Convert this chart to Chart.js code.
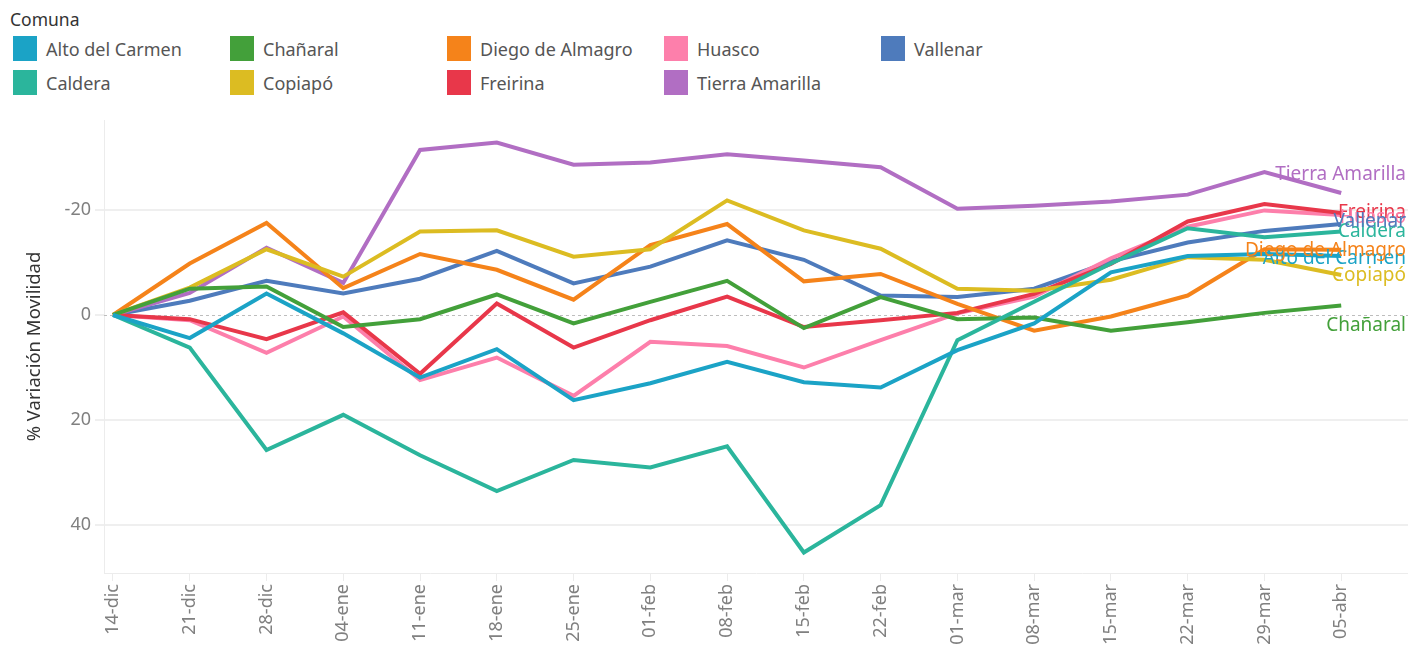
<!DOCTYPE html>
<html>
<head>
<meta charset="utf-8">
<script src="https://cdn.jsdelivr.net/npm/chart.js"></script>
<style>
  html, body { margin: 0; padding: 0; background: #fff; overflow: hidden; }
  body { width: 1408px; height: 645px; position: relative; font-family: "Noto Sans", sans-serif; }
  .legend-title { position: absolute; left: 10px; top: 7px; font-size: 17.5px; color: #333; }
  .legend-item { position: absolute; height: 25px; display: flex; align-items: center; font-size: 18px; color: #555; }
  .legend-item span.sw { width: 24px; height: 25px; margin-right: 9px; display: inline-block; }
  #wrap { position: absolute; left: 0; top: 100px; width: 1408px; height: 545px; }
</style>
</head>
<body>
<div class="legend-title">Comuna</div>
<div id="legend"></div>
<div id="wrap"><canvas id="chart"></canvas></div>
<script>
// semanas
const weeks = ["14-dic", "21-dic", "28-dic", "04-ene", "11-ene", "18-ene", "25-ene", "01-feb", "08-feb",
  "15-feb", "22-feb", "01-mar", "08-mar", "15-mar", "22-mar", "29-mar", "05-abr"];

const comunas = ["Alto del Carmen", "Caldera", "Chañaral", "Copiapó", "Diego de Almagro",
  "Freirina", "Huasco", "Tierra Amarilla", "Vallenar"];

// % variacion movilidad por comuna
const altoDelCarmen = [0, 4.4, -4.1, 3.5, 11.9, 6.5, 16.2, 13.0, 8.9, 12.8, 13.8, 6.7, 1.6, -8.1, -11.2, -11.6, -11.2];
const caldera = [0, 6.2, 25.7, 19.0, 26.7, 33.5, 27.6, 29.0, 25.0, 45.2, 36.2, 4.8, -2.5, -9.8, -16.5, -14.8, -15.9];
const chanaral = [0, -5.0, -5.4, 2.3, 0.8, -3.9, 1.6, -2.5, -6.5, 2.5, -3.4, 0.8, 0.5, 3.0, 1.4, -0.4, -1.8];
const copiapo = [0, -5.2, -12.5, -7.3, -15.9, -16.1, -11.1, -12.5, -21.8, -16.1, -12.6, -5.0, -4.6, -6.7, -11.0, -10.5, -7.6];
const diegoDeAlmagro = [0, -9.8, -17.5, -5.1, -11.6, -8.6, -2.9, -13.3, -17.3, -6.4, -7.8, -2.1, 3.0, 0.3, -3.7, -12.5, -12.4];
const freirina = [0, 0.8, 4.6, -0.5, 11.2, -2.2, 6.2, 1.0, -3.5, 2.3, 1.0, -0.4, -4.0, -9.7, -17.8, -21.1, -19.4];
const huasco = [0, 1.0, 7.2, 0.3, 12.4, 8.1, 15.4, 5.1, 5.9, 10.0, 4.8, -0.3, -3.5, -10.8, -16.8, -19.9, -19.0];
const tierraAmarilla = [0, -4.2, -12.8, -6.1, -31.4, -32.8, -28.6, -29.0, -30.6, -29.4, -28.1, -20.2, -20.8, -21.6, -22.9, -27.2, -23.2];
const vallenar = [0, -2.7, -6.5, -4.1, -6.9, -12.2, -6.0, -9.2, -14.2, -10.5, -3.7, -3.4, -5.0, -10.2, -13.8, -16.0, -17.3];

const seriesValues = [altoDelCarmen, caldera, chanaral, copiapo, diegoDeAlmagro, freirina, huasco, tierraAmarilla, vallenar];
const colors = ["#1ba3c6", "#2bb59c", "#43a03a", "#dcbc22", "#f5831a", "#e8374a", "#fd7fab", "#b16ec3", "#4e7bbc"];
// desplazamiento vertical de la etiqueta final (px)
const labelShift = [2, 0, 20, 1, 1, 0, 2, -18, -2];

const yTicks = [-20, 0, 20, 40];

// legend (html, 5 columnas)
const legendEl = document.getElementById("legend");
const legendOrder = [0, 2, 4, 6, 8, 1, 3, 5, 7];
legendOrder.forEach((idx, k) => {
  const col = k < 5 ? k : k - 5;
  const row = k < 5 ? 0 : 1;
  const d = document.createElement("div");
  d.className = "legend-item";
  d.style.left = (13 + col * 217) + "px";
  d.style.top = (36 + row * 34) + "px";
  d.innerHTML = `<span class="sw" style="background:${colors[idx]}"></span>${comunas[idx]}`;
  legendEl.appendChild(d);
});

const fontFam = '"Noto Sans", sans-serif';

const datasets = comunas.map((name, i) => ({
  label: name,
  data: seriesValues[i].map((v, j) => ({ x: j, y: v })),
  borderColor: colors[i],
  backgroundColor: colors[i],
  borderWidth: 4,
  pointRadius: 0,
  tension: 0,
  fill: false,
  clip: false
}));

// zero line dashed + end labels
const extras = {
  id: "extras",
  beforeDatasetsDraw(chart) {
    const { ctx, chartArea, scales } = chart;
    const y0 = scales.y.getPixelForValue(0);
    ctx.save();
    ctx.strokeStyle = "#bdbdbd";
    ctx.lineWidth = 1;
    ctx.setLineDash([3, 3]);
    ctx.beginPath();
    ctx.moveTo(chartArea.left, Math.round(y0) + 0.5);
    ctx.lineTo(chartArea.right, Math.round(y0) + 0.5);
    ctx.stroke();
    ctx.restore();
  },
  afterDatasetsDraw(chart) {
    const { ctx, chartArea } = chart;
    ctx.save();
    ctx.font = "19px " + fontFam;
    ctx.textAlign = "right";
    ctx.textBaseline = "middle";
    chart.data.datasets.forEach((ds, i) => {
      const meta = chart.getDatasetMeta(i);
      const last = meta.data[meta.data.length - 1];
      ctx.fillStyle = colors[i];
      ctx.fillText(ds.label, chartArea.right - 2, last.y + labelShift[i]);
    });
    ctx.restore();
  }
};

new Chart(document.getElementById("chart"), {
  type: "line",
  data: { datasets },
  plugins: [extras],
  options: {
    responsive: true,
    maintainAspectRatio: false,
    animation: false,
    layout: { padding: { top: 20, right: 0, left: 0, bottom: 0 } },
    plugins: { legend: { display: false }, tooltip: { enabled: false } },
    scales: {
      x: {
        type: "linear",
        min: -0.117,
        max: 16.87,
        afterBuildTicks: axis => { axis.ticks = weeks.map((w, i) => ({ value: i })); },
        afterFit: scale => { scale.height = 72; },
        ticks: {
          autoSkip: false,
          minRotation: 90,
          maxRotation: 90,
          padding: 3,
          color: "#808080",
          font: { size: 18, family: fontFam },
          callback: v => weeks[v]
        },
        grid: { drawOnChartArea: false, drawTicks: true, tickLength: 8, color: "#ececec" },
        border: { display: true, color: "#ececec" }
      },
      y: {
        reverse: true,
        min: -37.1,
        max: 49.1,
        afterBuildTicks: axis => { axis.ticks = yTicks.map(v => ({ value: v })); },
        afterFit: scale => { scale.width = 104; },
        ticks: {
          color: "#808080",
          padding: 4,
          font: { size: 18, family: fontFam },
          callback: v => String(v)
        },
        grid: {
          color: ctx => (ctx.tick && ctx.tick.value === 0) ? "rgba(0,0,0,0)" : "#efefef",
          lineWidth: 2,
          tickLength: 9,
          tickColor: "#efefef"
        },
        border: { display: true, color: "#ececec" },
        title: {
          display: true,
          text: "% Variación Movilidad",
          color: "#333",
          font: { size: 18.5, family: fontFam },
          padding: { top: 24, bottom: 0 }
        }
      }
    }
  }
});
</script>
</body>
</html>
